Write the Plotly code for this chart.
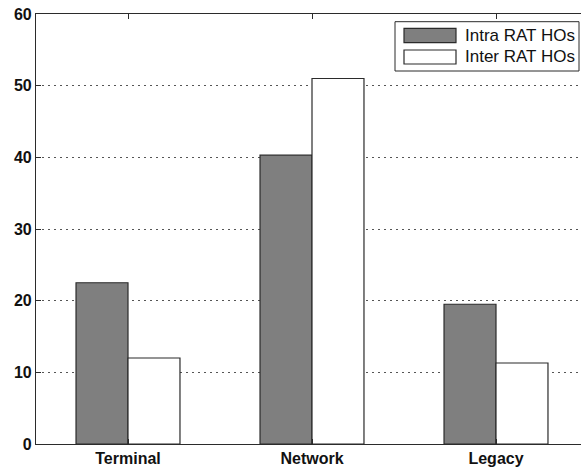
import plotly.graph_objects as go

categories = ["Terminal", "Network", "Legacy"]
intra_rat = [22.5, 40.3, 19.5]
inter_rat = [12.0, 51.0, 11.3]
series_names = ["Intra RAT HOs", "Inter RAT HOs"]
y_ticks = [0, 10, 20, 30, 40, 50, 60]

W, H = 581, 470
L, R, T, B = 36, 0, 14, 26
plot_w = W - L - R
plot_h = H - T - B

x_pos = [1, 2, 3]
edge = "#2b2b2b"
family = "Liberation Sans, Arial, sans-serif"
legend_font = dict(family=family, size=17, color="#111")
tick_font = dict(family=family, size=16, color="#111", weight="bold")

fig = go.Figure()
fig.add_trace(go.Bar(x=x_pos, y=intra_rat, name=series_names[0],
                     marker=dict(color="#7f7f7f", line=dict(color=edge, width=1.2))))
fig.add_trace(go.Bar(x=x_pos, y=inter_rat, name=series_names[1],
                     marker=dict(color="white", line=dict(color=edge, width=1.2))))


def px_x(px):
    return (px - L) / plot_w


def px_y(py):
    return (H - B - py) / plot_h


# Legend box drawn in paper coordinates
shapes = [
    dict(type="rect", xref="paper", yref="paper",
         x0=px_x(395), x1=px_x(579), y0=px_y(71), y1=px_y(21.7),
         fillcolor="white", line=dict(color=edge, width=1)),
    dict(type="rect", xref="paper", yref="paper",
         x0=px_x(404), x1=px_x(456), y0=px_y(42.7), y1=px_y(28.3),
         fillcolor="#7f7f7f", line=dict(color=edge, width=1.2)),
    dict(type="rect", xref="paper", yref="paper",
         x0=px_x(404), x1=px_x(456), y0=px_y(64), y1=px_y(50),
         fillcolor="white", line=dict(color=edge, width=1.2)),
]
annotations = [
    dict(xref="paper", yref="paper", x=px_x(463), y=px_y(35.5), text=series_names[0],
         showarrow=False, xanchor="left", yanchor="middle", font=legend_font),
    dict(xref="paper", yref="paper", x=px_x(463), y=px_y(57), text=series_names[1],
         showarrow=False, xanchor="left", yanchor="middle", font=legend_font),
]

fig.update_layout(
    width=W, height=H,
    margin=dict(l=L, r=R, t=T, b=B, pad=0),
    paper_bgcolor="white", plot_bgcolor="white",
    barmode="group", bargap=0.435, bargroupgap=0,
    showlegend=False,
    shapes=shapes,
    annotations=annotations,
    xaxis=dict(
        range=[0.5, 3.5 - 7 / 184],
        tickmode="array", tickvals=x_pos, ticktext=categories,
        ticks="inside", ticklen=5, tickcolor=edge,
        showline=True, linecolor=edge, linewidth=1.2, mirror="ticks",
        showgrid=False, zeroline=False,
        tickfont=tick_font,
    ),
    yaxis=dict(
        range=[0, 60],
        tickmode="array", tickvals=y_ticks,
        ticks="inside", ticklen=5, tickcolor=edge,
        showline=True, linecolor=edge, linewidth=1.2, mirror=False,
        showgrid=True, gridcolor="#555", gridwidth=1.2, griddash="2px,4px",
        zeroline=False,
        tickfont=tick_font,
    ),
)

fig.write_html("out.html")
